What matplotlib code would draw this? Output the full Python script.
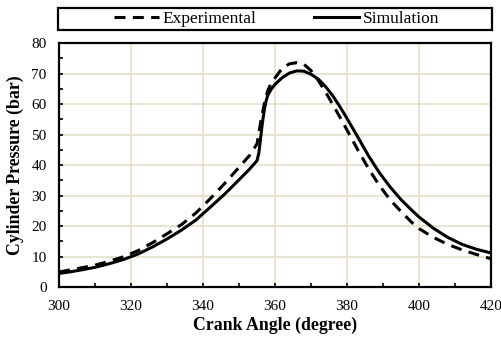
import matplotlib
matplotlib.use('Agg')
import matplotlib.pyplot as plt
from matplotlib.ticker import MultipleLocator

# Data
sim_angle = [300, 303, 306, 310, 314, 318, 322, 326, 330, 334, 338, 342, 346,
             350, 353, 355, 355.5, 356, 356.5, 357, 357.5, 358, 359, 360, 362,
             364, 366, 368, 370, 372, 374, 376, 378, 380, 383, 386, 389, 392,
             395, 398, 400, 404, 408, 412, 416, 420]
sim_pressure = [4.5, 5.0, 5.6, 6.5, 7.7, 9.1, 10.9, 13.2, 15.8, 18.7, 22.0,
                26.2, 30.5, 35.2, 38.8, 41.5, 44.0, 49.0, 54.0, 58.0, 61.0,
                63.0, 65.0, 66.5, 68.7, 70.2, 70.9, 70.8, 69.8, 68.2, 65.8,
                62.8, 59.2, 55.3, 49.2, 43.0, 37.5, 32.8, 28.7, 25.2, 23.0,
                19.3, 16.3, 14.0, 12.4, 11.2]

exp_angle = [300, 303, 306, 310, 314, 318, 322, 326, 330, 334, 338, 342, 346,
             350, 353, 355, 356, 357, 358, 359, 360, 362, 364, 366, 368, 370,
             372, 374, 376, 378, 380, 383, 386, 389, 392, 395, 398, 400, 404,
             408, 412, 416, 420]
exp_pressure = [5.0, 5.6, 6.3, 7.2, 8.5, 10.0, 12.0, 14.6, 17.5, 20.5, 24.3,
                29.0, 34.0, 39.3, 43.3, 47.0, 54.0, 60.0, 64.5, 67.0, 68.6,
                71.8, 73.2, 73.6, 73.1, 71.0, 67.8, 64.0, 60.0, 55.8, 51.5,
                45.0, 38.8, 33.3, 28.6, 24.8, 21.2, 19.2, 16.3, 14.0, 12.2,
                10.7, 9.3]

plt.rcParams['font.family'] = 'Liberation Serif'

fig = plt.figure(figsize=(5.01, 3.37), dpi=100)
ax = fig.add_axes([0.118, 0.148, 0.862, 0.724])

ax.plot(exp_angle, exp_pressure, color='black', linewidth=2.2,
        dashes=(3.6, 2.4), label='Experimental')
ax.plot(sim_angle, sim_pressure, color='black', linewidth=2.2,
        label='Simulation')

ax.set_xlim(300, 420)
ax.set_ylim(0, 80)
ax.xaxis.set_major_locator(MultipleLocator(20))
ax.xaxis.set_minor_locator(MultipleLocator(10))
ax.yaxis.set_major_locator(MultipleLocator(10))
ax.yaxis.set_minor_locator(MultipleLocator(5))
ax.tick_params(which='both', direction='in', length=3, width=1.2,
               labelsize=11, top=False, right=False)
ax.tick_params(axis='x', pad=9)
ax.tick_params(axis='y', pad=9)

ax.grid(True, which='major', color='#E4DECB', linewidth=1.2)
ax.set_axisbelow(True)
for spine in ax.spines.values():
    spine.set_linewidth(1.6)

ax.set_xlabel('Crank Angle (degree)', fontsize=12.8, fontweight='bold', labelpad=3)
ax.set_ylabel('Cylinder Pressure (bar)', fontsize=12.8, fontweight='bold', labelpad=5)

leg = fig.legend(loc='center', bbox_to_anchor=(0.552, 0.943),
                 ncol=2, fontsize=12.5, frameon=False,
                 handlelength=2.6, handletextpad=0.2, columnspacing=3.3)

# legend frame spanning the plot width, as in the reference
frame = plt.Rectangle((0.116, 0.911), 0.866, 0.065, transform=fig.transFigure,
                      fill=False, edgecolor='black', linewidth=1.6)
fig.add_artist(frame)

fig.savefig('out.png', dpi=100)
